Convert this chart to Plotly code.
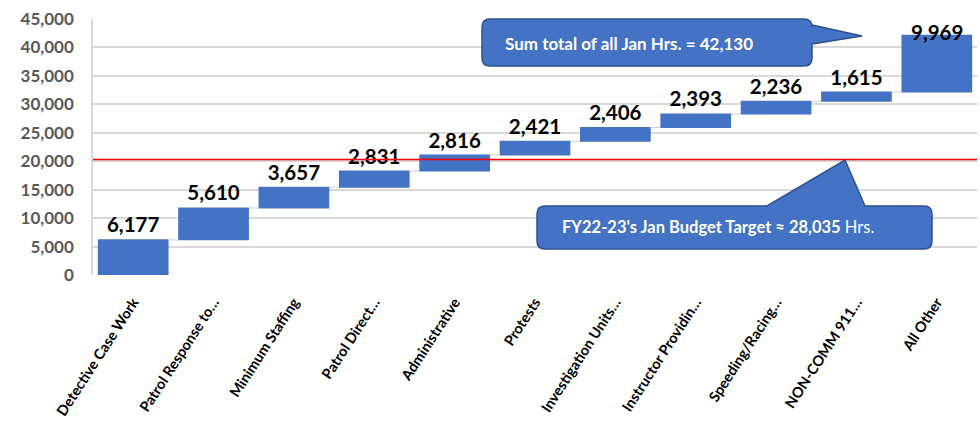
import plotly.graph_objects as go

categories = ["Detective Case Work", "Patrol Response to…", "Minimum Staffing",
              "Patrol Direct…", "Administrative", "Protests", "Investigation Units…",
              "Instructor Providin…", "Speeding/Racing…", "NON-COMM 911…", "All Other"]
hours = [6177, 5610, 3657, 2831, 2816, 2421, 2406, 2393, 2236, 1615, 9969]
target_line = 20300
y_ticks = [0, 5000, 10000, 15000, 20000, 25000, 30000, 35000, 40000, 45000]

W, H = 980, 431
ML, MR, MT, MB = 93, 3, 19, 156
PW, PH = W - ML - MR, H - MT - MB
BLUE = "#4472C4"
FONT = "Lato"


def px(x, y):
    return ((x - ML) / PW, (H - MB - y) / PH)


def fmt(pt):
    a, b = px(*pt)
    return f"{a:.5f},{b:.5f}"


def callout(x0, y0, x1, y1, r, tail_side, tail):
    p = ["M " + fmt((x0 + r, y0))]
    if tail_side == "top":
        a, tip, b = tail
        p += ["L " + fmt((a, y0)), "L " + fmt(tip), "L " + fmt((b, y0))]
    p += ["L " + fmt((x1 - r, y0)), "Q " + fmt((x1, y0)) + " " + fmt((x1, y0 + r))]
    if tail_side == "right":
        a, tip, b = tail
        p += ["L " + fmt((x1, a)), "L " + fmt(tip), "L " + fmt((x1, b))]
    p += ["L " + fmt((x1, y1 - r)), "Q " + fmt((x1, y1)) + " " + fmt((x1 - r, y1)),
          "L " + fmt((x0 + r, y1)), "Q " + fmt((x0, y1)) + " " + fmt((x0, y1 - r)),
          "L " + fmt((x0, y0 + r)), "Q " + fmt((x0, y0)) + " " + fmt((x0 + r, y0)), "Z"]
    return " ".join(p)


n = len(hours)
labels = [f"{v:,}" for v in hours]
positions = ["outside"] * (n - 1) + ["none"]

fig = go.Figure(go.Waterfall(
    x=categories,
    y=hours,
    measure=["relative"] * n,
    text=labels,
    textposition=positions,
    textfont=dict(family=FONT, size=20.5, color="black", weight="bold"),
    increasing=dict(marker=dict(color=BLUE)),
    decreasing=dict(marker=dict(color=BLUE)),
    connector=dict(line=dict(color="#d0d0d0", width=1)),
    cliponaxis=False,
    hoverinfo="skip",
))

# last label sits on the bar top (clamped inside the chart area in the original)
total = sum(hours)
fig.add_annotation(x=categories[-1], y=total, xref="x", yref="y", text=f"<b>{labels[-1]}</b>",
                   showarrow=False, yanchor="middle", yshift=3,
                   font=dict(family=FONT, size=20.5, color="black"))

fig.update_layout(
    width=W, height=H,
    margin=dict(l=ML, r=MR, t=MT, b=MB, autoexpand=False),
    paper_bgcolor="white", plot_bgcolor="white",
    showlegend=False,
    waterfallgap=0.12,
    font=dict(family=FONT),
)
fig.update_xaxes(
    range=[-0.5, n - 0.5], automargin=False,
    showgrid=False, zeroline=False, showline=False,
    tickangle=-57,
    tickfont=dict(family=FONT, size=14.5, color="black", weight="bold"),
    ticks="", ticklabelstandoff=15,
)
fig.update_yaxes(
    range=[0, 45000], tickvals=y_ticks, tickformat=",", automargin=False,
    showgrid=True, gridcolor="#d9d9d9", gridwidth=1.5,
    zeroline=False, showline=True, linecolor="#d9d9d9", linewidth=1.5,
    tickfont=dict(family=FONT, size=17, color="#595959", weight="bold"),
    ticks="", ticklabelstandoff=14,
)

fig.add_shape(type="line", xref="paper", yref="y", x0=0, x1=1,
              y0=target_line, y1=target_line, line=dict(color="red", width=1.5))

fig.add_shape(type="path", xref="paper", yref="paper",
              path=callout(482, 19, 812, 66, 8, "right", (25, (862, 36), 44)),
              fillcolor=BLUE, line=dict(color="#2F528F", width=1.5), layer="above")
fig.add_shape(type="path", xref="paper", yref="paper",
              path=callout(537, 206, 932, 249, 8, "top", (767, (845, 160), 865)),
              fillcolor=BLUE, line=dict(color="#2F528F", width=1.5), layer="above")

ax, ay = px(503, 43)
fig.add_annotation(xref="paper", yref="paper", x=ax, y=ay, xanchor="left", yanchor="middle",
                   text="<b>Sum total of all Jan Hrs. = 42,130</b>", showarrow=False,
                   font=dict(family=FONT, size=17, color="white"))
bx, by = px(560, 227)
fig.add_annotation(xref="paper", yref="paper", x=bx, y=by, xanchor="left", yanchor="middle",
                   text="<b>FY22-23's Jan Budget Target ≈ 28,035</b> Hrs.", showarrow=False,
                   font=dict(family=FONT, size=16.5, color="white"))

fig.write_html("out.html", config={"displayModeBar": False},
               post_script="document.body.style.margin='0';document.body.style.padding='0';document.body.style.overflow='hidden';")
